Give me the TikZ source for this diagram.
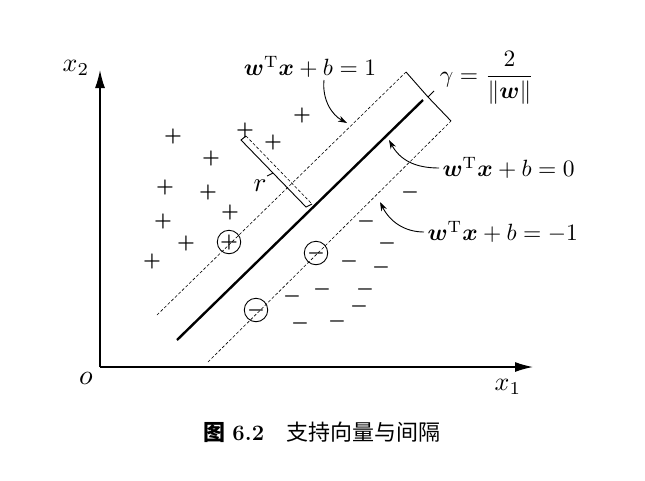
\documentclass[tikz,border=0pt]{standalone}
\usepackage{amsmath,bm,graphicx}
\usepackage{fontspec}
\newfontfamily\cjk{Noto Sans CJK SC}
\usetikzlibrary{arrows.meta}
\newcommand\fsz[1]{\fontsize{#1}{#1}\selectfont}
\newcommand\sbx[2]{\scalebox{#1}{#2}}
\begin{document}
\begin{tikzpicture}[x=1pt,y=-1pt,
  dl/.style={densely dashed,line width=0.6pt},
  ax/.style={line width=1.4pt,-{Latex[length=18pt,width=10pt]}},
  pt/.style={inner sep=0pt},
  cir/.style={circle,draw,line width=0.9pt,minimum size=22pt,inner sep=0pt},
  pointer/.style={line width=0.9pt,-{Stealth[length=9pt,width=6pt]}}]
\useasboundingbox (0,0) rectangle (645,480);
\coordinate (O) at (100,367);
\coordinate (Ytop) at (100,70);
\coordinate (Xend) at (533,367);
\draw[ax] (O) -- (Ytop);
\draw[ax] (O) -- (Xend);
\node (x2) at (76,68) {\sbx{2.6}{$x_2$}};
\node (x1) at (508,387) {\sbx{2.6}{$x_1$}};
\node (o) at (86,378) {\sbx{2.8}{$o$}};
% lines
\coordinate (S1) at (177,340); \coordinate (S2) at (423,100);
\draw[line width=2.4pt] (S1) -- (S2);
\coordinate (U1) at (157,315); \coordinate (U2) at (406,72);
\coordinate (L1) at (208,362); \coordinate (L2) at (451,121);
\draw[dl] (U1) -- (U2);
\draw[dl] (L1) -- (L2);
\coordinate (Tk) at (428,97);
\coordinate (Tk2) at (434,91);
\draw[line width=0.9pt] (U2) -- (Tk) -- (L2);
\draw[line width=0.9pt] (Tk) -- (Tk2);
% r bracket
\coordinate (R0) at (246,136); \coordinate (R1) at (312,204);
\draw[dl] (R0) -- (R1);
\coordinate (B0) at (241,140); \coordinate (B1) at (306,207);
\coordinate (Rm) at (273,173); \coordinate (Rt) at (267,176);
\draw[line width=0.9pt] (R0) -- (B0) -- (Rm) -- (Rt) (Rm) -- (B1) -- (R1);
\node (r) at (260,186) {\sbx{2.7}{$r$}};
% pluses
\foreach \n/\x/\y in {p1/173/136,p2/302/115,p3/245/130,p4/273/142,p5/211/158,p6/165/187,p7/208/192,p8/230/212,p9/163/221,p10/186/243,p11/152/261}
  \node[pt] (\n) at (\x,\y) {\sbx{2}{$\bm{+}$}};
\node[cir] (cp) at (229,242) {\sbx{2}{$\bm{+}$}};
% minuses
\foreach \n/\x/\y in {m1/410/192,m2/366/221,m3/387/243,m4/349/261,m5/381/267,m6/322/289,m7/365/289,m8/292/296,m9/359/306,m10/300/323,m11/337/321}
  \node[pt] (\n) at (\x,\y) {\sbx{2}{$\bm{-}$}};
\node[cir] (cm1) at (316,253) {\sbx{2}{$\bm{-}$}};
\node[cir] (cm2) at (256,310) {\sbx{2}{$\bm{-}$}};
% labels
\node (e1) at (310,67) {\sbx{2.35}{$\bm{w}^{\mathrm{T}}\bm{x}+b=1$}};
\node (g) at (487,78) {\sbx{2.35}{$\gamma=\dfrac{2}{\|\bm{w}\|}$}};
\node[anchor=west] (e0) at (439,168) {\sbx{2.35}{$\bm{w}^{\mathrm{T}}\bm{x}+b=0$}};
\node[anchor=west] (em) at (424,232) {\sbx{2.35}{$\bm{w}^{\mathrm{T}}\bm{x}+b=-1$}};
\coordinate (a1) at (347,123);
\coordinate (a0) at (389,140);
\coordinate (am) at (380,202);
\draw[pointer] (324,80) .. controls (322,100) and (332,115) .. (a1);
\draw[pointer] (e0.west) .. controls (415,168) and (400,160) .. (a0);
\draw[pointer] (em.west) .. controls (405,232) and (390,222) .. (am);
\node[font=\fsz{22}] (cap) at (322,432) {\textbf{\cjk 图} \textbf{6.2}\quad{\cjk 支持向量与间隔}};
\end{tikzpicture}
\end{document}
